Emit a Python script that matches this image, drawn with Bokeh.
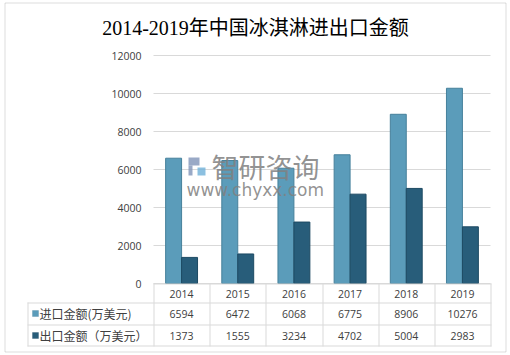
from bokeh.plotting import figure
from bokeh.models import (ColumnDataSource, Range1d, Label, LabelSet, BoxAnnotation)
from bokeh.core.properties import value
from bokeh.embed import file_html
from bokeh.resources import INLINE

years = ["2014", "2015", "2016", "2017", "2018", "2019"]
imports = [6594, 6472, 6068, 6775, 8906, 10276]
exports = [1373, 1555, 3234, 4702, 5004, 2983]
series_names = ["进口金额(万美元)", "出口金额（万美元）"]
title_text = "2014-2019年中国冰淇淋进出口金额"
y_ticks = [0, 2000, 4000, 6000, 8000, 10000, 12000]

W, H = 510, 355
# plot area (pixels) inside the canvas
PL, PR, PT, PB = 153, 490, 55, 283
YMAX = 12000
n = len(years)
sx = (PR - PL) / n          # px per category
sy = (PB - PT) / YMAX       # px per unit value

IMP_COLOR = "#5b9cba"
EXP_COLOR = "#285d7a"
GRID = "#d9d9d9"
TXT = "#404040"
NUM_FONT = "Open Sans"
CJK_FONT = "Noto Sans CJK SC"
BAR_W = 0.284
OFF = 0.142

xc = [i + 0.5 for i in range(n)]
src = ColumnDataSource(dict(xc=xc, xi=[x - OFF for x in xc], xe=[x + OFF for x in xc],
                            year=years, imp=imports, exp=exports,
                            imp_s=[str(v) for v in imports],
                            exp_s=[str(v) for v in exports]))
tsrc = ColumnDataSource(dict(t=y_ticks, ts=[str(t) for t in y_ticks],
                             x0=[0] * len(y_ticks), x1=[n] * len(y_ticks)))

p = figure(width=W, height=H,
           x_range=Range1d(-PL / sx, n + (W - PR) / sx),
           y_range=Range1d(-(H - PB) / sy, YMAX + PT / sy),
           output_backend="svg", toolbar_location=None,
           min_border=0)
p.outline_line_color = None
p.background_fill_color = "white"
p.border_fill_color = "white"
p.axis.visible = False
p.grid.visible = False

# gridlines
p.segment(x0="x0", x1="x1", y0="t", y1="t", source=tsrc, line_color=GRID, line_width=1)

# y tick labels
p.add_layout(LabelSet(x=141, x_units="canvas", y="t", text="ts", source=tsrc,
                      text_align="right", text_baseline="middle", text_font=value(NUM_FONT),
                      text_font_size=value("10.5px"), text_color=TXT))

# bars
p.vbar(x="xi", top="imp", width=BAR_W, source=src,
       fill_color=IMP_COLOR, line_color="#46809b", line_width=1)
p.vbar(x="xe", top="exp", width=BAR_W, source=src,
       fill_color=EXP_COLOR, line_color="#1d4a63", line_width=1)

def cbox(l, r, t, b, **kw):
    return BoxAnnotation(left=l, right=r, top=t, bottom=b, left_units="canvas",
                         right_units="canvas", top_units="canvas", bottom_units="canvas", **kw)

# watermark
p.add_layout(Label(x=211, y=166, x_units="canvas", y_units="canvas", text="智研咨询",
                   text_font=CJK_FONT, text_font_size="27px", text_color="#808080",
                   text_alpha=0.85, text_baseline="middle", text_align="left"))
p.add_layout(Label(x=186, y=189, x_units="canvas", y_units="canvas", text="www.chyxx.com",
                   text_font="DejaVu Sans", text_font_size="17px", text_color="#808080",
                   text_alpha=0.85, text_baseline="middle", text_align="left"))
p.add_layout(cbox(188, 199, 157, 165, fill_color="#7f94b8", fill_alpha=0.8, line_alpha=0))
p.add_layout(cbox(188, 192, 165, 175, fill_color="#7f94b8", fill_alpha=0.8, line_alpha=0))
p.add_layout(cbox(197, 205, 167, 175, fill_color="#6fb0d8", fill_alpha=0.8, line_alpha=0))

# title
p.add_layout(Label(x=255, y=27, x_units="canvas", y_units="canvas", text=title_text,
                   text_font="Liberation Serif, Noto Sans CJK SC", text_font_size="20px",
                   text_color="#000000", text_align="center", text_baseline="middle"))

# table lines
col_edges = [PL + i * sx for i in range(n + 1)]
for yv, x0 in [(283, PL), (302, 27), (324, 27), (345, 27)]:
    p.add_layout(cbox(x0, PR + 1, yv, yv + 1, fill_color=GRID, fill_alpha=1, line_alpha=0))
for xv in col_edges:
    p.add_layout(cbox(round(xv), round(xv) + 1, 283, 346, fill_color=GRID, fill_alpha=1, line_alpha=0))
p.add_layout(cbox(27, 28, 302, 346, fill_color=GRID, fill_alpha=1, line_alpha=0))

# table text
for yc, col in [(293, "year"), (313, "imp_s"), (335, "exp_s")]:
    p.add_layout(LabelSet(x="xc", y=yc, y_units="canvas", text=col, source=src,
                          text_align="center", text_baseline="middle", text_font=value(NUM_FONT),
                          text_font_size=value("10.5px"), text_color=TXT))

# legend cells
for yc, name, col, lc in [(313, series_names[0], IMP_COLOR, "#46809b"),
                          (335, series_names[1], EXP_COLOR, "#1d4a63")]:
    p.add_layout(cbox(32, 38, yc - 3, yc + 3, fill_color=col, fill_alpha=1,
                      line_color=lc, line_width=1))
    p.add_layout(Label(x=39, y=yc, x_units="canvas", y_units="canvas", text=name,
                       text_font=CJK_FONT, text_font_size="12px", text_color=TXT,
                       text_baseline="middle", text_align="left"))

# outer border
p.add_layout(cbox(4.5, 505.5, 2.5, 351.5, fill_alpha=0, line_color="#8c8c8c", line_width=1))

open("out.html", "w").write(file_html(p, INLINE))
